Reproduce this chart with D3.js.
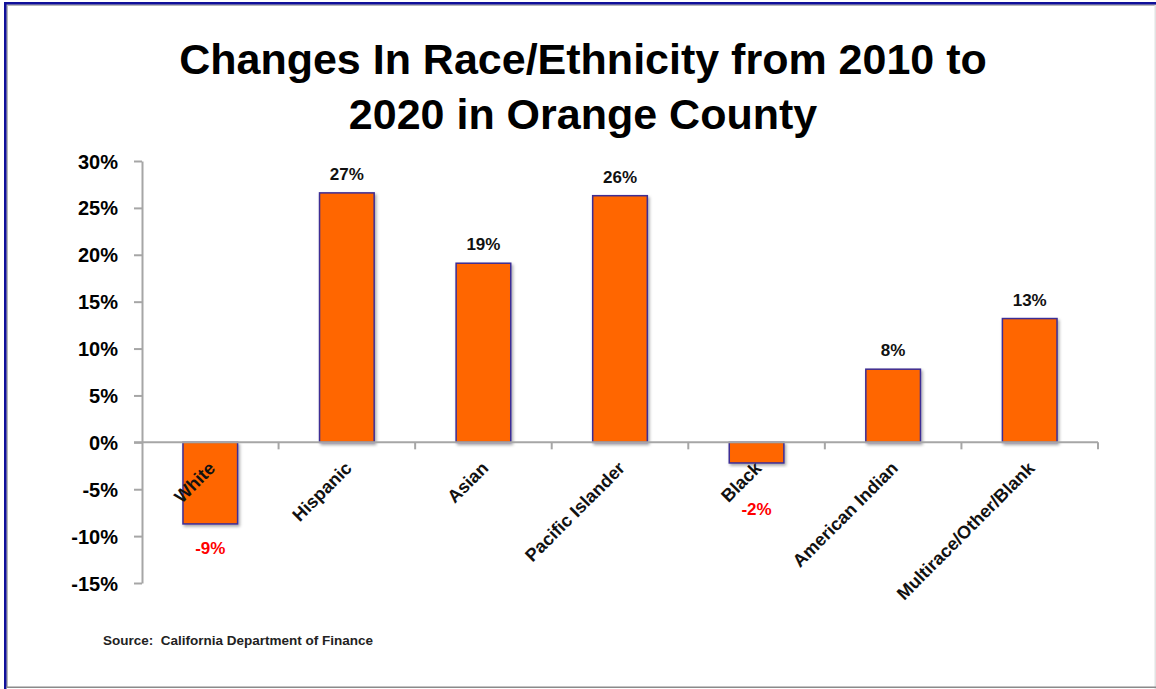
<!DOCTYPE html>
<html>
<head>
<meta charset="utf-8">
<script src="https://cdn.jsdelivr.net/npm/d3@7"></script>
<style>
  html, body { margin: 0; padding: 0; background: #fff; }
  svg { display: block; }
  text { font-family: "Liberation Sans", Arial, sans-serif; }
</style>
</head>
<body>
<svg id="chart" width="1156" height="689"></svg>
<script>
// Race/ethnicity change, Orange County, 2010 -> 2020 (percent)
const categories = ["White", "Hispanic", "Asian", "Pacific Islander", "Black", "American Indian", "Multirace/Other/Blank"];
const changes = [-8.7, 26.6, 19.1, 26.3, -2.2, 7.8, 13.2];
const valueLabels = ["-9%", "27%", "19%", "26%", "-2%", "8%", "13%"];
const yTicks = [-15, -10, -5, 0, 5, 10, 15, 20, 25, 30];
const titleLines = ["Changes In Race/Ethnicity from 2010 to", "2020 in Orange County"];
const sourceNote = "Source:  California Department of Finance";

const svg = d3.select("#chart");
const W = 1156, H = 689;

// frame: navy top/left rules with a grey inner shadow, grey right/bottom edges
svg.append("rect").attr("x", 0).attr("y", 0).attr("width", W).attr("height", H).attr("fill", "#fff");
svg.append("rect").attr("x", 6).attr("y", 4).attr("width", 2).attr("height", H - 6).attr("fill", "#b8b8b8");
svg.append("rect").attr("x", 6).attr("y", 4).attr("width", W - 6).attr("height", 2).attr("fill", "#b8b8b8");
svg.append("rect").attr("x", 4).attr("y", 2).attr("width", 2.5).attr("height", H - 2).attr("fill", "#10109a");
svg.append("rect").attr("x", 4).attr("y", 2).attr("width", W - 4).attr("height", 2.5).attr("fill", "#10109a");
svg.append("rect").attr("x", W - 1.5).attr("y", 5).attr("width", 1.5).attr("height", H - 5).attr("fill", "#e2e2e2");
svg.append("rect").attr("x", 6).attr("y", H - 2.5).attr("width", W - 6).attr("height", 1.5).attr("fill", "#8a8a8a");

// title
svg.append("g").selectAll("text")
  .data(titleLines)
  .join("text")
  .attr("x", 583)
  .attr("y", (d, i) => 74 + i * 55)
  .attr("text-anchor", "middle")
  .attr("font-weight", "bold")
  .attr("font-size", 43)
  .attr("fill", "#000")
  .text(d => d);

// scales
const margin = { left: 142, right: 1098, top: 161, bottom: 583 };
const x = d3.scaleBand().domain(categories).range([margin.left, margin.right]).paddingInner(0.6).paddingOuter(0.3);
const y = d3.scaleLinear().domain([-15, 30]).range([margin.bottom, margin.top]);
const xBand = d3.scaleBand().domain(categories).range([margin.left, margin.right]);

const axisColor = "#a6a6a6";

// y axis
const yAxis = svg.append("g")
  .attr("transform", `translate(${margin.left},0)`)
  .call(d3.axisLeft(y).tickValues(yTicks).tickSize(8).tickSizeOuter(0).tickPadding(16)
    .tickFormat(d => d + "%"));
yAxis.select(".domain").attr("stroke", axisColor).attr("stroke-width", 2);
yAxis.selectAll(".tick line").attr("stroke", axisColor).attr("stroke-width", 2);
yAxis.selectAll(".tick text")
  .attr("font-family", "'Liberation Sans', Arial, sans-serif")
  .attr("font-weight", "bold").attr("font-size", 20).attr("fill", "#000")
  .attr("dy", "0.35em");

// bar shadows
const defs = svg.append("defs");
defs.append("filter").attr("id", "shadow").attr("x", "-20%").attr("y", "-20%").attr("width", "140%").attr("height", "140%")
  .append("feDropShadow").attr("dx", 1.5).attr("dy", 2).attr("stdDeviation", 1.6)
  .attr("flood-color", "#000").attr("flood-opacity", 0.35);

svg.append("g").selectAll("rect")
  .data(changes)
  .join("rect")
  .attr("x", (d, i) => x(categories[i]))
  .attr("width", x.bandwidth())
  .attr("y", d => y(Math.max(0, d)))
  .attr("height", d => Math.abs(y(d) - y(0)))
  .attr("fill", "#ff6600")
  .attr("stroke", "#3c2d94")
  .attr("stroke-width", 1.5)
  .attr("filter", "url(#shadow)");

// x axis at zero
const xAxisG = svg.append("g").attr("transform", `translate(0,${y(0)})`);
xAxisG.append("line")
  .attr("x1", margin.left - 8).attr("x2", margin.right)
  .attr("stroke", axisColor).attr("stroke-width", 2);
xAxisG.selectAll("line.tick")
  .data(categories)
  .join("line")
  .attr("class", "tick")
  .attr("x1", d => xBand(d) + xBand.bandwidth()).attr("x2", d => xBand(d) + xBand.bandwidth())
  .attr("y1", 0).attr("y2", 7)
  .attr("stroke", axisColor).attr("stroke-width", 2);

// category labels, rotated
svg.append("g").selectAll("text")
  .data(categories)
  .join("text")
  .attr("transform", d => `translate(${x(d) + x.bandwidth() / 2 + 6},${y(0) + 27}) rotate(-45)`)
  .attr("text-anchor", "end")
  .attr("font-family", "'Liberation Sans', Arial, sans-serif")
  .attr("font-weight", "bold")
  .attr("font-size", 18)
  .attr("fill", "#111")
  .text(d => d);

// value labels: above positive bars, below negative ones (kept clear of category labels)
svg.append("g").selectAll("text")
  .data(changes)
  .join("text")
  .attr("x", (d, i) => x(categories[i]) + x.bandwidth() / 2)
  .attr("y", d => d >= 0 ? y(d) - 13 : Math.max(y(d) + 30, y(0) + 73))
  .attr("text-anchor", "middle")
  .attr("font-family", "'Liberation Sans', Arial, sans-serif")
  .attr("font-weight", "bold")
  .attr("font-size", 17)
  .attr("fill", d => d >= 0 ? "#111" : "#ff0000")
  .text((d, i) => valueLabels[i]);

// source note
svg.append("text")
  .attr("x", 103).attr("y", 645)
  .attr("font-family", "'Liberation Sans', Arial, sans-serif")
  .attr("font-weight", "bold")
  .attr("font-size", 13.5)
  .attr("fill", "#222")
  .style("white-space", "pre")
  .text(sourceNote);
</script>
</body>
</html>
